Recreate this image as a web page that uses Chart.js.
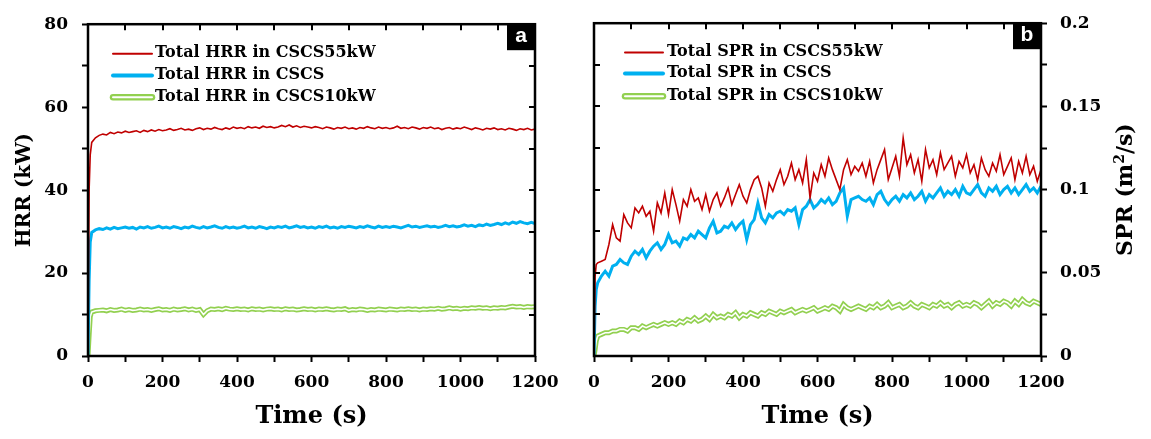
<!DOCTYPE html>
<html><head><meta charset="utf-8">
<script src="https://cdn.jsdelivr.net/npm/chart.js@4.4.1/dist/chart.umd.min.js"></script>
<style>
html,body{margin:0;padding:0;background:#fff;}
#wrap{position:relative;width:1151px;height:439px;overflow:hidden;}
#chartA{position:absolute;left:0;top:0;}
#chartB{position:absolute;left:575px;top:0;}
</style></head><body>
<div id="wrap"><canvas id="chartA" width="575" height="439"></canvas><canvas id="chartB" width="576" height="439"></canvas></div>
<script>
// ---- categories (time, s) ----
const times = [0, 3, 6,
  10, 20, 30, 40, 50, 60, 70, 80, 90, 100,
  110, 120, 130, 140, 150, 160, 170, 180, 190, 200,
  210, 220, 230, 240, 250, 260, 270, 280, 290, 300,
  310, 320, 330, 340, 350, 360, 370, 380, 390, 400,
  410, 420, 430, 440, 450, 460, 470, 480, 490, 500,
  510, 520, 530, 540, 550, 560, 570, 580, 590, 600,
  610, 620, 630, 640, 650, 660, 670, 680, 690, 700,
  710, 720, 730, 740, 750, 760, 770, 780, 790, 800,
  810, 820, 830, 840, 850, 860, 870, 880, 890, 900,
  910, 920, 930, 940, 950, 960, 970, 980, 990, 1000,
  1010, 1020, 1030, 1040, 1050, 1060, 1070, 1080, 1090, 1100,
  1110, 1120, 1130, 1140, 1150, 1160, 1170, 1180, 1190, 1200];

// ---- panel a: HRR (kW) ----
const hrr55 = [0, 40.0, 48.5,
  51.5, 52.6, 53.2, 53.5, 53.3, 53.9, 53.6, 54.0, 53.8, 54.2,
  53.9, 54.1, 54.3, 53.9, 54.4, 54.1, 54.5, 54.2, 54.6, 54.3,
  54.5, 54.8, 54.4, 54.6, 54.9, 54.5, 54.7, 54.4, 54.8, 55.0,
  54.6, 54.9, 54.7, 55.1, 54.8, 54.6, 55.0, 54.7, 55.2, 54.9,
  55.1, 54.8, 55.3, 55.0, 55.2, 54.9, 55.4, 55.1, 55.3, 55.0,
  55.2, 55.6, 55.3, 55.7, 55.2, 55.5, 55.1, 55.4, 55.2, 55.0,
  55.3, 55.1, 54.8, 55.2, 55.0, 54.7, 55.1, 54.9, 55.2, 54.8,
  55.0, 54.7, 55.1, 54.9, 55.3, 55.0, 54.8, 55.2, 54.9, 55.1,
  54.8, 55.0, 55.4, 54.9, 55.1, 54.8, 55.2, 55.0, 54.7, 55.1,
  54.9, 55.2, 54.8, 55.0, 54.6, 54.9, 55.1, 54.7, 55.0, 54.8,
  55.2, 54.9, 54.6, 55.0, 54.8, 54.5, 54.9, 54.7, 55.0, 54.6,
  54.8, 54.5, 54.9, 54.7, 54.4, 54.8, 54.6, 54.9, 54.5, 54.7];
const hrrCSCS = [0, 18.0, 27.5,
  29.8, 30.4, 30.7, 30.5, 30.9, 30.6, 31.0, 30.7, 30.9, 31.1,
  30.8, 31.0, 30.6, 31.1, 30.9, 31.2, 30.8, 31.0, 31.3, 30.9,
  31.1, 30.8, 31.2, 31.0, 30.7, 31.1, 30.9, 31.3, 31.0, 30.8,
  31.2, 30.9, 31.1, 31.4, 31.0, 30.8, 31.2, 30.9, 31.1, 30.8,
  31.0, 31.3, 30.9, 31.1, 30.8, 31.2, 31.0, 30.7, 31.1, 30.9,
  31.2, 31.0, 31.3, 30.9, 31.1, 31.4, 31.0, 31.2, 30.9, 31.1,
  30.8, 31.2, 31.0, 31.3, 30.9, 31.1, 30.8, 31.2, 31.0, 31.3,
  31.1, 30.9, 31.2, 31.0, 31.4, 31.1, 30.9, 31.3, 31.0, 31.2,
  31.0, 31.3, 31.1, 30.9, 31.2, 31.5, 31.1, 31.3, 31.0, 31.2,
  31.4, 31.1, 31.3, 31.0, 31.2, 31.5, 31.2, 31.4, 31.1, 31.3,
  31.6, 31.3, 31.5, 31.2, 31.6, 31.4, 31.8, 31.5, 31.7, 32.0,
  31.7, 32.1, 31.8, 32.3, 32.0, 32.4, 32.1, 31.9, 32.2, 31.9];
const hrr10 = [0, 5.0, 9.5,
  10.6, 10.9, 11.0, 11.1, 10.9, 11.2, 11.0, 11.1, 11.3, 11.0,
  11.2, 11.0, 11.1, 11.3, 11.1, 11.2, 11.0, 11.2, 11.4, 11.1,
  11.2, 11.0, 11.3, 11.1, 11.2, 11.4, 11.1, 11.3, 11.0, 11.2,
  10.0, 10.9, 11.3, 11.2, 11.4, 11.2, 11.5, 11.3, 11.2, 11.4,
  11.2, 11.3, 11.1, 11.4, 11.2, 11.3, 11.1, 11.3, 11.4, 11.2,
  11.3, 11.1, 11.4, 11.2, 11.3, 11.1, 11.2, 11.4, 11.2, 11.3,
  11.1, 11.3, 11.2, 11.4, 11.2, 11.1, 11.3, 11.2, 11.4, 11.0,
  11.2, 11.1, 11.3, 11.2, 11.0, 11.2, 11.1, 11.3, 11.2, 11.1,
  11.3, 11.2, 11.1, 11.3, 11.2, 11.4, 11.2, 11.3, 11.1, 11.3,
  11.2, 11.4, 11.3, 11.5, 11.3, 11.4, 11.6, 11.4, 11.5, 11.3,
  11.5, 11.4, 11.6, 11.5, 11.7, 11.5, 11.6, 11.4, 11.6, 11.5,
  11.7, 11.6, 11.8, 12.0, 11.8, 11.9, 11.7, 11.9, 11.8, 11.9];

// ---- panel b: SPR (m2/s) ----
const spr55 = [0, 0.048, 0.055,
  0.056, 0.057, 0.058, 0.067, 0.079, 0.071, 0.069, 0.085, 0.080, 0.077,
  0.089, 0.086, 0.090, 0.084, 0.087, 0.075, 0.092, 0.086, 0.098, 0.085,
  0.100, 0.091, 0.081, 0.094, 0.090, 0.100, 0.093, 0.095, 0.088, 0.097,
  0.087, 0.094, 0.098, 0.090, 0.095, 0.101, 0.091, 0.097, 0.103, 0.096,
  0.092, 0.100, 0.106, 0.108, 0.101, 0.090, 0.104, 0.099, 0.106, 0.112,
  0.103, 0.108, 0.116, 0.106, 0.112, 0.104, 0.118, 0.095, 0.110, 0.105,
  0.115, 0.108, 0.119, 0.112, 0.106, 0.100, 0.112, 0.118, 0.109, 0.114,
  0.111, 0.116, 0.108, 0.117, 0.104, 0.112, 0.118, 0.124, 0.106, 0.113,
  0.120, 0.108, 0.131, 0.115, 0.121, 0.110, 0.118, 0.105, 0.124, 0.113,
  0.118, 0.109, 0.122, 0.112, 0.116, 0.120, 0.108, 0.117, 0.113, 0.121,
  0.110, 0.115, 0.106, 0.119, 0.112, 0.108, 0.116, 0.111, 0.121, 0.109,
  0.114, 0.119, 0.106, 0.117, 0.110, 0.120, 0.109, 0.114, 0.105, 0.112];
const sprCSCS = [0, 0.030, 0.040,
  0.044, 0.048, 0.051, 0.048, 0.054, 0.055, 0.058, 0.056, 0.055, 0.060,
  0.063, 0.061, 0.064, 0.059, 0.063, 0.066, 0.068, 0.064, 0.067, 0.073,
  0.068, 0.069, 0.066, 0.071, 0.070, 0.073, 0.071, 0.075, 0.073, 0.071,
  0.077, 0.081, 0.074, 0.075, 0.078, 0.077, 0.080, 0.076, 0.079, 0.081,
  0.070, 0.079, 0.082, 0.092, 0.083, 0.080, 0.085, 0.083, 0.086, 0.087,
  0.085, 0.088, 0.087, 0.089, 0.079, 0.088, 0.090, 0.094, 0.089, 0.091,
  0.094, 0.092, 0.095, 0.091, 0.093, 0.098, 0.101, 0.084, 0.094, 0.095,
  0.096, 0.094, 0.093, 0.095, 0.091, 0.097, 0.099, 0.094, 0.091, 0.094,
  0.096, 0.093, 0.097, 0.095, 0.098, 0.094, 0.096, 0.099, 0.093, 0.097,
  0.095, 0.098, 0.101, 0.096, 0.099, 0.097, 0.100, 0.096, 0.102, 0.098,
  0.097, 0.100, 0.103, 0.098, 0.096, 0.101, 0.099, 0.102, 0.097, 0.100,
  0.102, 0.098, 0.101, 0.097, 0.100, 0.103, 0.099, 0.101, 0.098, 0.102];
const spr10 = [0, 0.004, 0.009,
  0.012, 0.013, 0.014, 0.014, 0.015, 0.015, 0.016, 0.016, 0.015, 0.017,
  0.017, 0.016, 0.018, 0.017, 0.018, 0.019, 0.018, 0.019, 0.020, 0.019,
  0.020, 0.019, 0.021, 0.020, 0.022, 0.021, 0.023, 0.021, 0.022, 0.024,
  0.022, 0.025, 0.023, 0.024, 0.023, 0.025, 0.024, 0.026, 0.023, 0.025,
  0.024, 0.026, 0.025, 0.024, 0.026, 0.025, 0.027, 0.026, 0.025, 0.027,
  0.026, 0.027, 0.028, 0.026, 0.027, 0.028, 0.027, 0.028, 0.029, 0.027,
  0.028, 0.029, 0.028, 0.030, 0.029, 0.027, 0.031, 0.029, 0.028, 0.029,
  0.030, 0.029, 0.028, 0.030, 0.029, 0.031, 0.029, 0.030, 0.032, 0.029,
  0.030, 0.031, 0.029, 0.030, 0.032, 0.030, 0.029, 0.031, 0.030, 0.029,
  0.031, 0.030, 0.032, 0.030, 0.031, 0.029, 0.031, 0.032, 0.030, 0.031,
  0.030, 0.032, 0.031, 0.029, 0.031, 0.033, 0.030, 0.032, 0.031, 0.033,
  0.032, 0.030, 0.033, 0.031, 0.034, 0.032, 0.031, 0.033, 0.032, 0.031];

// ---- tick labels / texts ----
const xTickLabels = ['0', '200', '400', '600', '800', '1000', '1200'];
const hrrTickLabels = ['0', '20', '40', '60', '80'];
const sprTickLabels = ['0', '0.05', '0.1', '0.15', '0.2'];
const hrrLabels = ['Total HRR in CSCS55kW', 'Total HRR in CSCS', 'Total HRR in CSCS10kW'];
const sprLabels = ['Total SPR in CSCS55kW', 'Total SPR in CSCS', 'Total SPR in CSCS10kW'];

const RED = '#C00000', BLUE = '#00B0F0', GREEN = '#92D050';
const SERIF = "'DejaVu Serif', serif";
Chart.defaults.color = '#000';
Chart.defaults.font.family = SERIF;

function pts(vals) { return times.map((t, i) => ({ x: t, y: vals[i] })); }

function datasets(v55, vC, v10, labels) {
  return [
    { label: labels[0], data: pts(v55), borderColor: RED, borderWidth: 1.6, legendStyle: 'thin' },
    { label: labels[1], data: pts(vC), borderColor: BLUE, borderWidth: 3, legendStyle: 'thick' },
    { label: '', data: pts(v10), borderColor: '#FFFFFF', borderWidth: 1.6 },
    { label: labels[2], data: pts(v10), borderColor: GREEN, borderWidth: 5, legendStyle: 'double' }
  ].map(d => Object.assign(d, { pointRadius: 0, tension: 0, fill: false }));
}

const framePlugin = {
  id: 'frame',
  afterDraw(chart, args, o) {
    const { ctx, chartArea: a, scales } = chart;
    const xs = scales.x, ys = scales.y;
    ctx.save();
    // inner ticks on top and opposite y side
    ctx.strokeStyle = '#000'; ctx.lineWidth = 2; ctx.lineCap = 'butt';
    ctx.beginPath();
    xs.ticks.forEach(t => {
      if (t.value > xs.min && t.value < xs.max) {
        const px = Math.round(xs.getPixelForValue(t.value));
        ctx.moveTo(px, a.top); ctx.lineTo(px, a.top + 6);
      }
    });
    const sideX = o.innerSide === 'right' ? a.right : a.left;
    const dir = o.innerSide === 'right' ? -1 : 1;
    ys.ticks.forEach(t => {
      if (t.value > ys.min + 1e-9 && t.value < ys.max - 1e-9) {
        const py = Math.round(ys.getPixelForValue(t.value));
        ctx.moveTo(sideX, py); ctx.lineTo(sideX + dir * 6, py);
      }
    });
    ctx.stroke();
    // frame
    ctx.lineWidth = 2.5;
    ctx.strokeRect(a.left, a.top, a.right - a.left, a.bottom - a.top);
    // panel letter
    ctx.fillStyle = '#000';
    ctx.fillRect(a.right - 28, a.top, 28, 26);
    ctx.fillStyle = '#fff';
    ctx.font = "bold 21px 'Liberation Sans', Arial, sans-serif";
    ctx.textAlign = 'center'; ctx.textBaseline = 'middle';
    ctx.fillText(o.letter, a.right - 14, a.top + 12);
    // legend
    const items = chart.data.datasets.filter(d => d.legendStyle);
    ctx.font = "bold 16px " + SERIF;
    ctx.textAlign = 'left'; ctx.textBaseline = 'middle';
    items.forEach((d, k) => {
      const y = a.top + o.legendRows[k];
      const x0 = a.left + o.legendX, x1 = x0 + o.legendLen;
      ctx.lineCap = 'round';
      ctx.beginPath(); ctx.moveTo(x0, y); ctx.lineTo(x1, y);
      if (d.legendStyle === 'double') {
        ctx.strokeStyle = GREEN; ctx.lineWidth = 6.5; ctx.stroke();
        ctx.beginPath(); ctx.moveTo(x0, y); ctx.lineTo(x1, y);
        ctx.strokeStyle = '#fff'; ctx.lineWidth = 2; ctx.stroke();
      } else {
        ctx.strokeStyle = d.borderColor;
        ctx.lineWidth = d.legendStyle === 'thick' ? 4 : 2;
        ctx.stroke();
      }
      ctx.fillStyle = '#000';
      ctx.fillText(d.label, x1 + o.legendGap, y - 0.5);
    });
    // rotated right-hand title (reads bottom to top)
    if (o.rightTitle) {
      const parts = o.rightTitle;
      ctx.translate(ys.right - 25, (a.top + a.bottom) / 2);
      ctx.rotate(-Math.PI / 2);
      let total = 0;
      parts.forEach(p => { ctx.font = p.font; total += ctx.measureText(p.text).width; });
      let x = -total / 2;
      ctx.textAlign = 'left'; ctx.textBaseline = 'middle'; ctx.fillStyle = '#000';
      parts.forEach(p => { ctx.font = p.font; ctx.fillText(p.text, x, p.dy); x += ctx.measureText(p.text).width; });
    }
    ctx.restore();
  }
};

function xScale() {
  return {
    type: 'linear', position: 'bottom', min: 0, max: 1200,
    ticks: { stepSize: 100, autoSkip: false, maxRotation: 0, padding: 10,
      font: { size: 17, weight: 'bold', family: SERIF }, color: '#000',
      callback: (v, i) => (i % 2 === 0 ? xTickLabels[i / 2] : '') },
    grid: { drawOnChartArea: false, drawTicks: true, tickLength: 6, tickWidth: 2, tickColor: '#000' },
    border: { display: false },
    title: { display: true, text: 'Time (s)', color: '#000',
      font: { size: 24, weight: 'bold', family: SERIF }, padding: { top: 0, bottom: 8 } },
    afterFit: s => { s.height = 83; }
  };
}

new Chart(document.getElementById('chartA'), {
  type: 'line',
  data: { datasets: datasets(hrr55, hrrCSCS, hrr10, hrrLabels) },
  options: {
    responsive: false, animation: false, devicePixelRatio: 1,
    layout: { padding: { top: 13, right: 40, bottom: 0, left: 0 } },
    plugins: { legend: { display: false }, tooltip: { enabled: false },
      frame: { letter: 'a', innerSide: 'right', legendX: 25, legendLen: 39, legendGap: 3, legendRows: [29.5, 51.2, 73] } },
    scales: {
      x: xScale(),
      y: {
        type: 'linear', position: 'left', min: 0, max: 80,
        ticks: { stepSize: 10, autoSkip: false, padding: 14,
          font: { size: 17, weight: 'bold', family: SERIF }, color: '#000',
          callback: (v, i) => (i % 2 === 0 ? hrrTickLabels[i / 2] : '') },
        grid: { drawOnChartArea: false, drawTicks: true, tickLength: 6, tickWidth: 2, tickColor: '#000' },
        border: { display: false },
        title: { display: true, text: 'HRR (kW)', color: '#000',
          font: { size: 20, weight: 'bold', family: SERIF }, padding: { top: 13, bottom: 0 } },
        afterFit: s => { s.width = 88; }
      }
    }
  },
  plugins: [framePlugin]
});

new Chart(document.getElementById('chartB'), {
  type: 'line',
  data: { datasets: datasets(spr55, sprCSCS, spr10, sprLabels) },
  options: {
    responsive: false, animation: false, devicePixelRatio: 1,
    layout: { padding: { top: 13, right: 0, bottom: 0, left: 19 } },
    plugins: { legend: { display: false }, tooltip: { enabled: false },
      frame: { letter: 'b', innerSide: 'left', legendX: 31, legendLen: 38, legendGap: 4, legendRows: [29.3, 50.3, 73],
        rightTitle: [
          { text: 'SPR (m', font: "bold 22px " + SERIF, dy: 0 },
          { text: '2', font: "bold 14px " + SERIF, dy: -6 },
          { text: '/s)', font: "bold 22px " + SERIF, dy: 0 }
        ] } },
    scales: {
      x: xScale(),
      y: {
        type: 'linear', position: 'right', min: 0, max: 0.2,
        ticks: { stepSize: 0.025, autoSkip: false, padding: 13,
          font: { size: 17, weight: 'bold', family: SERIF }, color: '#000',
          callback: (v, i) => (i % 2 === 0 ? sprTickLabels[i / 2] : '') },
        grid: { drawOnChartArea: false, drawTicks: true, tickLength: 6, tickWidth: 2, tickColor: '#000' },
        border: { display: false },
        title: { display: false },
        afterFit: s => { s.width = 110; }
      }
    }
  },
  plugins: [framePlugin]
});
</script>
</body></html>
